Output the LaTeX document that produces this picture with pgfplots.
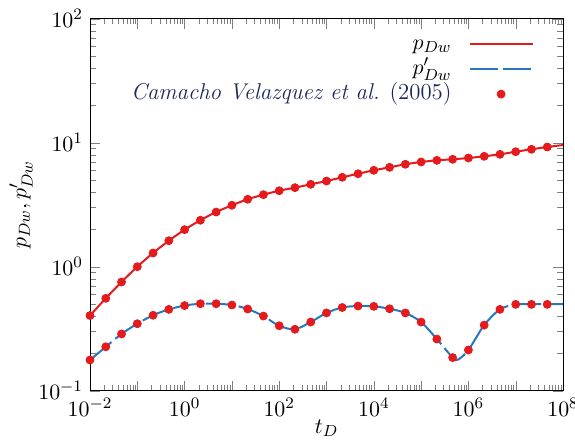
\documentclass[border=0pt]{standalone}
\usepackage{pgfplots}
\pgfplotsset{compat=1.18}

\definecolor{curvered}{RGB}{228,26,28}
\definecolor{curveblue}{RGB}{38,120,190}
\definecolor{refnavy}{RGB}{28,38,88}

\begin{document}
\begin{tikzpicture}[font=\fontsize{11.4}{13.7}\selectfont]
\begin{axis}[
  name=ax,
  scale only axis,
  width=236.5pt, height=186pt,
  xmode=log, ymode=log,
  xmin=1e-2, xmax=1e8,
  ymin=1e-1, ymax=1e2,
  log basis x=10, log basis y=10,
  xtick={1e-2,1e-1,1e0,1e1,1e2,1e3,1e4,1e5,1e6,1e7,1e8},
  xticklabels={$10^{-2}$,,$10^{0}$,,$10^{2}$,,$10^{4}$,,$10^{6}$,,$10^{8}$},
  minor xtick={
    2e-2,3e-2,4e-2,5e-2,6e-2,7e-2,8e-2,9e-2,
    2e-1,3e-1,4e-1,5e-1,6e-1,7e-1,8e-1,9e-1,
    2e0,3e0,4e0,5e0,6e0,7e0,8e0,9e0,
    2e1,3e1,4e1,5e1,6e1,7e1,8e1,9e1,
    2e2,3e2,4e2,5e2,6e2,7e2,8e2,9e2,
    2e3,3e3,4e3,5e3,6e3,7e3,8e3,9e3,
    2e4,3e4,4e4,5e4,6e4,7e4,8e4,9e4,
    2e5,3e5,4e5,5e5,6e5,7e5,8e5,9e5,
    2e6,3e6,4e6,5e6,6e6,7e6,8e6,9e6,
    2e7,3e7,4e7,5e7,6e7,7e7,8e7,9e7},
  ytick={1e-1,1e0,1e1,1e2},
  yticklabels={$10^{-1}$,$10^{0}$,$10^{1}$,$10^{2}$},
  minor ytick={
    2e-1,3e-1,4e-1,5e-1,6e-1,7e-1,8e-1,9e-1,
    2e0,3e0,4e0,5e0,6e0,7e0,8e0,9e0,
    2e1,3e1,4e1,5e1,6e1,7e1,8e1,9e1},
  major tick length=5pt,
  minor tick length=2.8pt,
  tick align=inside,
  tick pos=both,
  clip=false,
  xlabel={$t_D$},
  ylabel={$p_{Dw}, p'_{Dw}$},
  xlabel style={yshift=5pt},
  ylabel style={yshift=-4pt},
  legend plot pos=right,
  legend cell align=right,
  legend style={draw=none, fill=none, at={(1,1)}, anchor=north east,
    xshift=-11.5pt, yshift=-4.5pt, row sep=0.5pt,
    nodes={inner sep=0.5pt, text height=8pt, text depth=3pt},
    /tikz/every odd column/.append style={column sep=8pt}},
  legend image code/.code={%
    \draw[mark repeat=2,mark phase=2,#1]
      plot coordinates {(0pt,0pt) (15.75pt,0pt) (31.5pt,0pt)};},
]

% wellbore pressure (model)
\addplot[curvered, line width=1pt, smooth, no marks] coordinates {
  (0.01,0.404) (0.021544,0.556) (0.046416,0.753) (0.1,1.00)
  (0.21544,1.29) (0.46416,1.62) (1,1.99) (2.1544,2.37)
  (4.6416,2.76) (10,3.13) (21.544,3.50) (46.416,3.81)
  (100,4.10) (215.44,4.34) (464.16,4.62) (1000,4.91)
  (2154.4,5.26) (4641.6,5.62) (1e4,5.99) (21544,6.33)
  (46416,6.70) (1e5,6.99) (215440,7.21) (464160,7.35)
  (1e6,7.53) (2154400,7.77) (4641600,8.06) (1e7,8.46)
  (21544000,8.85) (46416000,9.23) (1e8,9.58)
};
\addlegendentry{$p_{Dw}$}

% pressure derivative (model)
\addplot[curveblue, line width=1pt, smooth, no marks,
  dash pattern=on 14pt off 2.5pt] coordinates {
  (0.01,0.177) (0.021544,0.226) (0.046416,0.287) (0.1,0.347)
  (0.21544,0.406) (0.46416,0.453) (1,0.486) (2.1544,0.503)
  (4.6416,0.503) (10,0.491) (21.544,0.456) (46.416,0.400)
  (100,0.334) (215.44,0.313) (464.16,0.358) (1000,0.424)
  (2154.4,0.469) (4641.6,0.482) (1e4,0.479) (21544,0.458)
  (46416,0.424) (1e5,0.358) (215440,0.261) (464160,0.185)
  (600000,0.178) (1e6,0.213) (2154400,0.338) (4641600,0.453)
  (1e7,0.497) (21544000,0.499) (46416000,0.499) (1e8,0.499)
};
\addlegendentry{$p'_{Dw}$}

% published solution, pressure
\addplot[only marks, mark=*, mark size=2pt, color=curvered] coordinates {
  (0.01,0.404) (0.021544,0.556) (0.046416,0.753) (0.1,1.00)
  (0.21544,1.29) (0.46416,1.62) (1,1.99) (2.1544,2.37)
  (4.6416,2.76) (10,3.13) (21.544,3.50) (46.416,3.81)
  (100,4.10) (215.44,4.34) (464.16,4.62) (1000,4.91)
  (2154.4,5.26) (4641.6,5.62) (1e4,5.99) (21544,6.33)
  (46416,6.70) (1e5,6.99) (215440,7.21) (464160,7.35)
  (1e6,7.53) (2154400,7.77) (4641600,8.06) (1e7,8.46)
  (21544000,8.85) (46416000,9.23)
};
\addlegendentry{{\color{refnavy}\textit{Camacho Velazquez et al.} (2005)}}

% published solution, derivative
\addplot[only marks, mark=*, mark size=2pt, color=curvered, forget plot] coordinates {
  (0.01,0.177) (0.021544,0.226) (0.046416,0.287) (0.1,0.347)
  (0.21544,0.406) (0.46416,0.453) (1,0.486) (2.1544,0.503)
  (4.6416,0.503) (10,0.491) (21.544,0.456) (46.416,0.400)
  (100,0.334) (215.44,0.313) (464.16,0.358) (1000,0.424)
  (2154.4,0.469) (4641.6,0.482) (1e4,0.479) (21544,0.458)
  (46416,0.424) (1e5,0.358) (215440,0.261) (464160,0.185)
  (1e6,0.213) (2154400,0.338) (4641600,0.453) (1e7,0.497)
  (21544000,0.497) (46416000,0.497)
};
\end{axis}
\pgfresetboundingbox
\path[use as bounding box] ([xshift=-45pt,yshift=-24.65pt]ax.south west)
  rectangle ([xshift=6pt,yshift=9.35pt]ax.north east);
\end{tikzpicture}
\end{document}
